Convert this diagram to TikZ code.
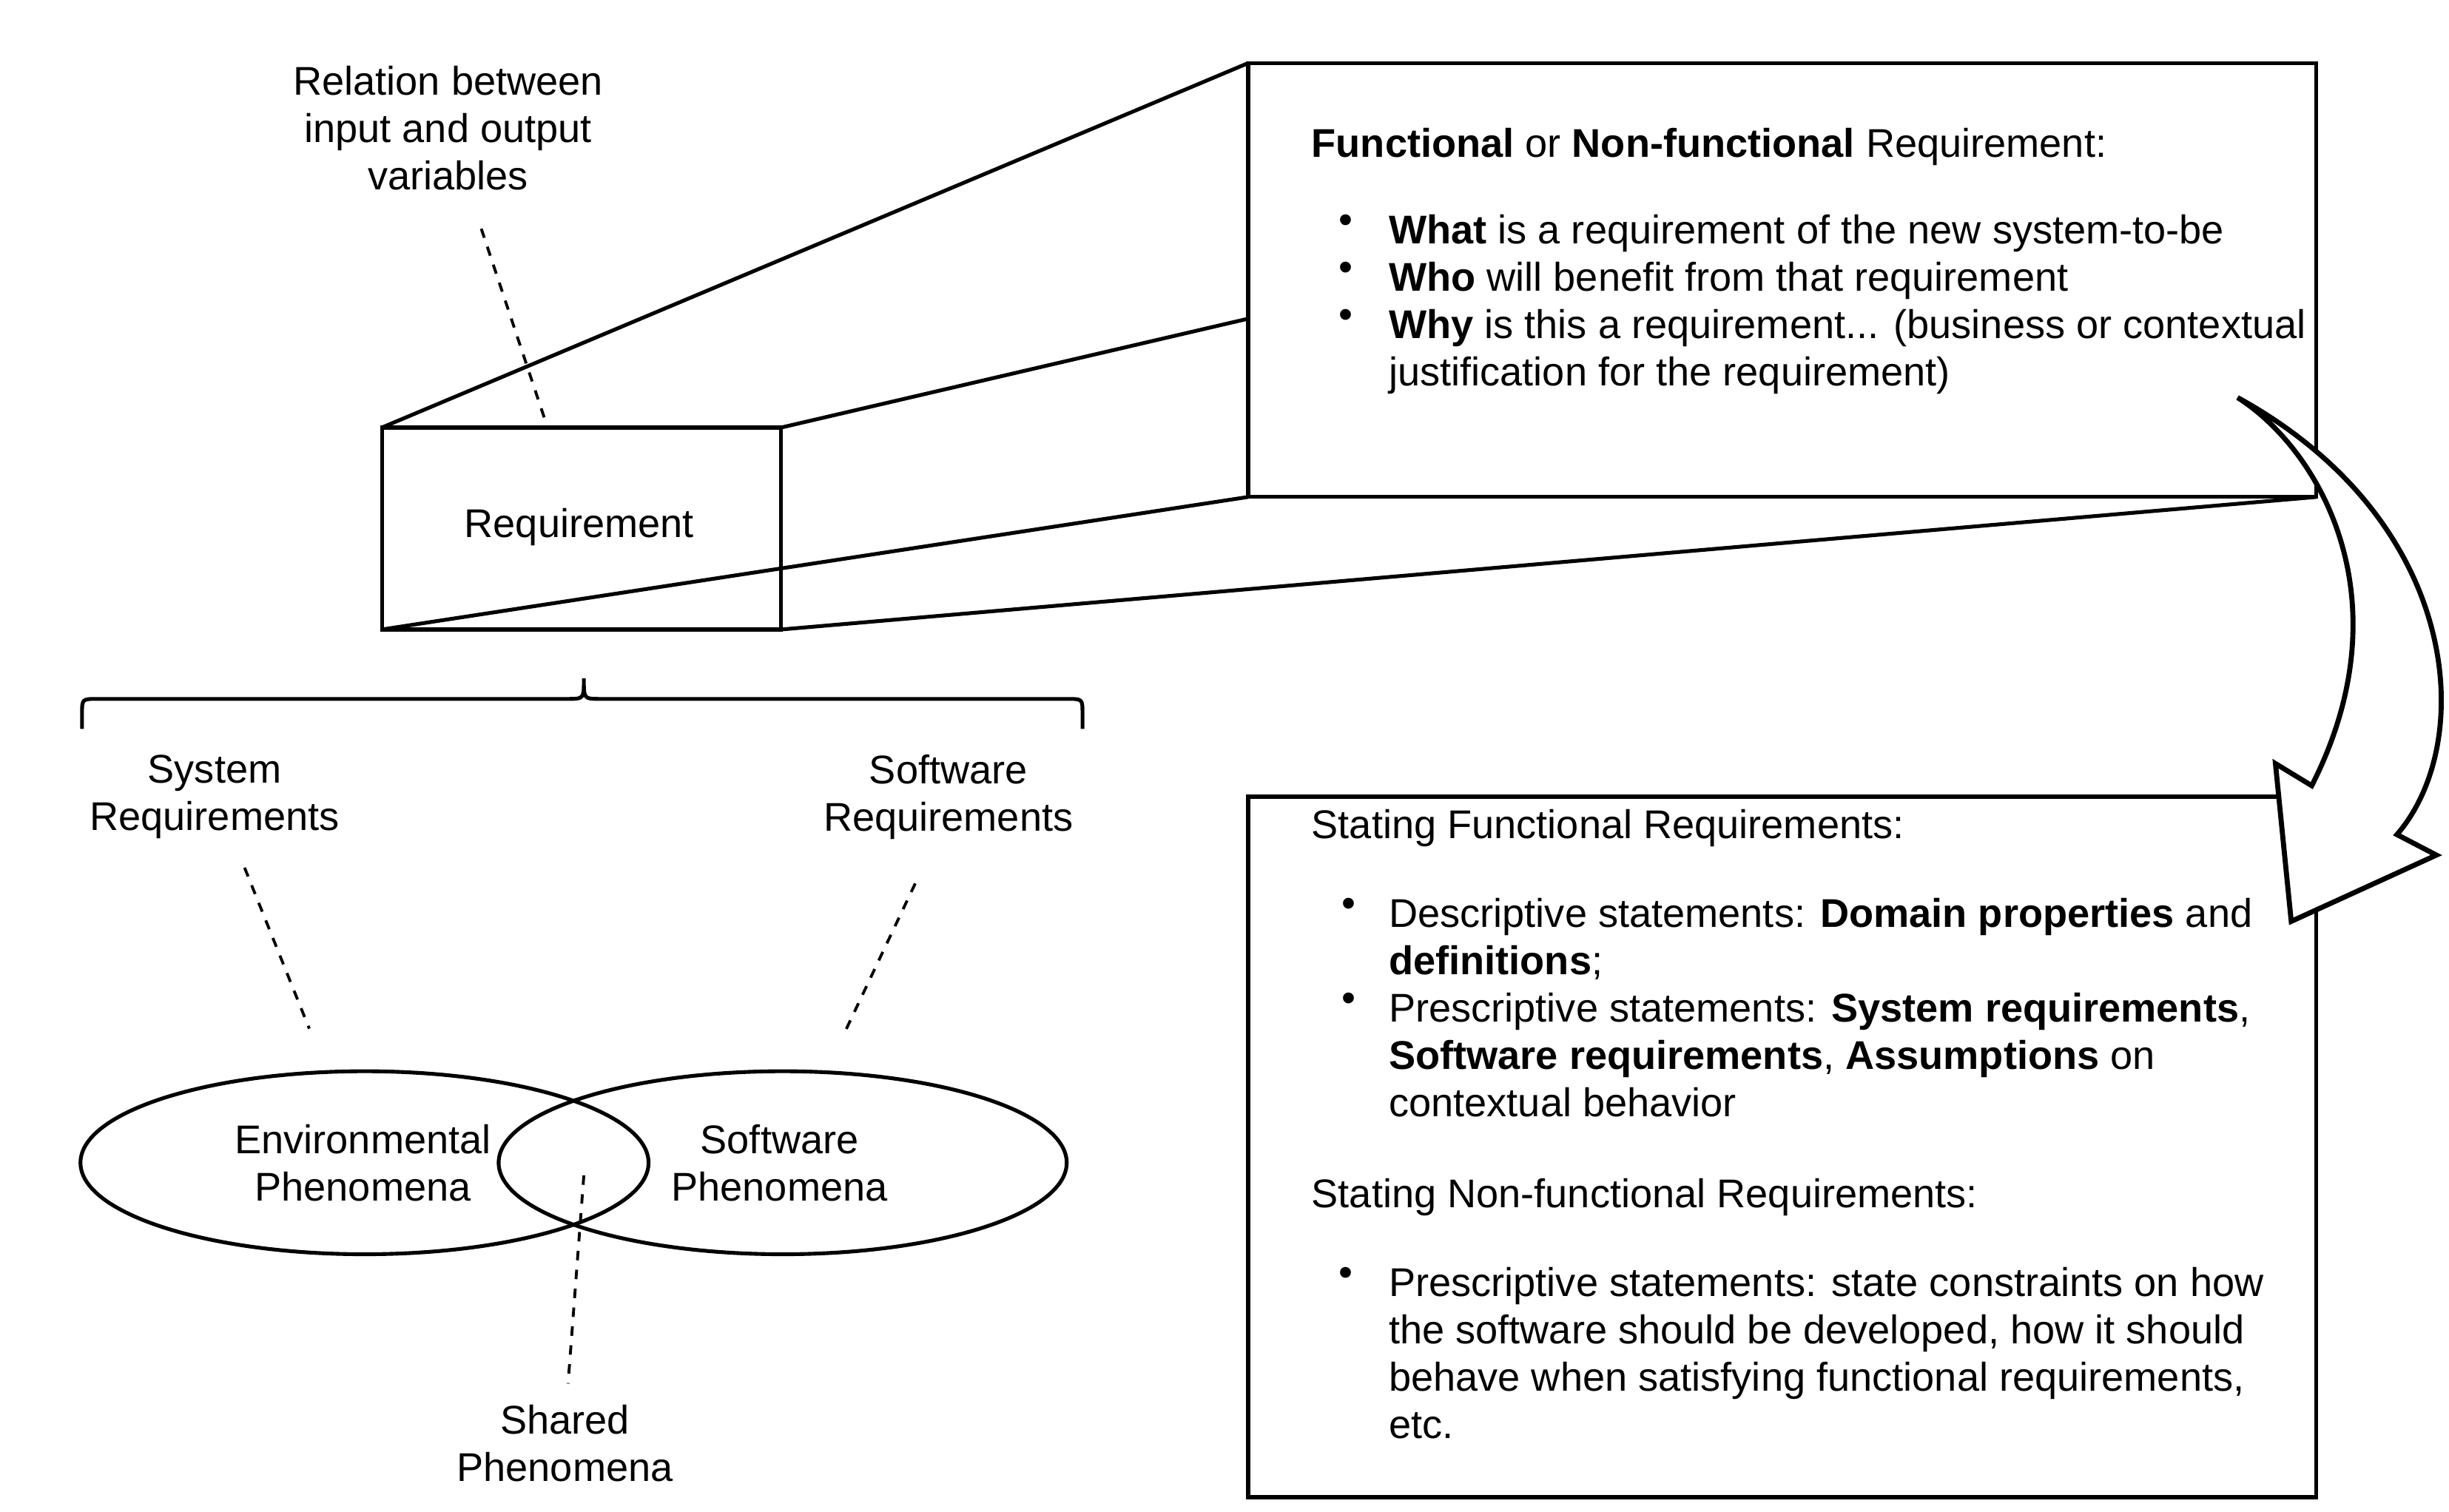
\documentclass[tikz,border=0pt]{standalone}
\usepackage{fontspec}
\setmainfont{Liberation Sans}
\usetikzlibrary{positioning}

\begin{document}
\begin{tikzpicture}[x=0.5pt, y=-0.5pt, line width=1.2pt, line join=miter,
    txt/.style={font=\fontsize{12.7}{15}\selectfont, inner sep=0pt, align=center},
    lft/.style={txt, align=left, anchor=north west},
    dot/.style={txt, anchor=north west},
    dashedline/.style={dashed, line width=0.9pt}]
  \useasboundingbox (0,0) rectangle (1552,958);
  % zoom box
  \draw (242,271) rectangle (495,399);
  \node[txt] (req) at (367,334) {Requirement};
  \draw (791,40) rectangle (1468,315);
  \draw (242,271) -- (791,40);
  \draw (495,271) -- (791,202);
  \draw (242,399) -- (791,315);
  \draw (495,399) -- (1468,315);
  \node[txt] (relation) at (284,81) {Relation between\\input and output\\variables};
  \coordinate (relend) at (347,271);
  \draw[dashedline] (305,145) -- (relend);
  % top box text
  \node[lft] (fhead) at (830,80) {\textbf{Functional} or \textbf{Non-functional} Requirement:};
  \node[dot] (b1) at (847,135) {\textbullet\\\textbullet\\\textbullet};
  \node[lft] (wlist) at (879,135) {\textbf{What} is a requirement of the new system-to-be\\
    \textbf{Who} will benefit from that requirement\\
    \textbf{Why} is this a requirement... (business or contextual\\
    justification for the requirement)};
  % brace
  \draw (52,462) -- (52,452) .. controls (52,443) .. (62,443) -- (360,443)
    .. controls (370,443) .. (370,430) .. controls (370,443) .. (380,443)
    -- (676,443) .. controls (686,443) .. (686,452) -- (686,462);
  \node[txt] (sysreq) at (136,505) {System\\Requirements};
  \node[txt] (swreq) at (601,505) {Software\\Requirements};
  % phenomena
  \draw (231,737) ellipse [x radius=180, y radius=58];
  \draw (496,737) ellipse [x radius=180, y radius=58];
  \node[txt] (envph) at (230,737) {Environmental\\Phenomena};
  \node[txt] (swph) at (494,737) {Software\\Phenomena};
  \node[txt] (shared) at (358,915) {Shared\\Phenomena};
  \draw[dashedline] (155,550) -- (196,652);
  \draw[dashedline] (580,560) -- (535,655);
  \draw[dashedline] (370,745) -- (360,877);
  % lower box
  \draw (791,505) rectangle (1468,949);
  \node[lft] (fstate) at (830,512) {Stating Functional Requirements:};
  \node[dot] (b2) at (847,568) {\textbullet\\\phantom{x}\\\textbullet};
  \node[lft] (flist) at (879,568) {Descriptive statements: \textbf{Domain properties} and\\
    \textbf{definitions};\\
    Prescriptive statements: \textbf{System requirements},\\
    \textbf{Software requirements}, \textbf{Assumptions} on\\
    contextual behavior};
  \node[lft] (nstate) at (830,746) {Stating Non-functional Requirements:};
  \node[dot] (b3) at (847,802) {\textbullet};
  \node[lft] (nlist) at (879,802) {Prescriptive statements: state constraints on how\\
    the software should be developed, how it should\\
    behave when satisfying functional requirements,\\
    etc.};
  % curved block arrow
  \draw[fill=white, line width=1.6pt] (1418,252) .. controls (1470,285) and (1525,380) .. (1465,498)
    -- (1442,484) -- (1452,584) -- (1544,542) -- (1519,529)
    .. controls (1570,470) and (1560,330) .. (1418,252) -- cycle;
\end{tikzpicture}
\end{document}
